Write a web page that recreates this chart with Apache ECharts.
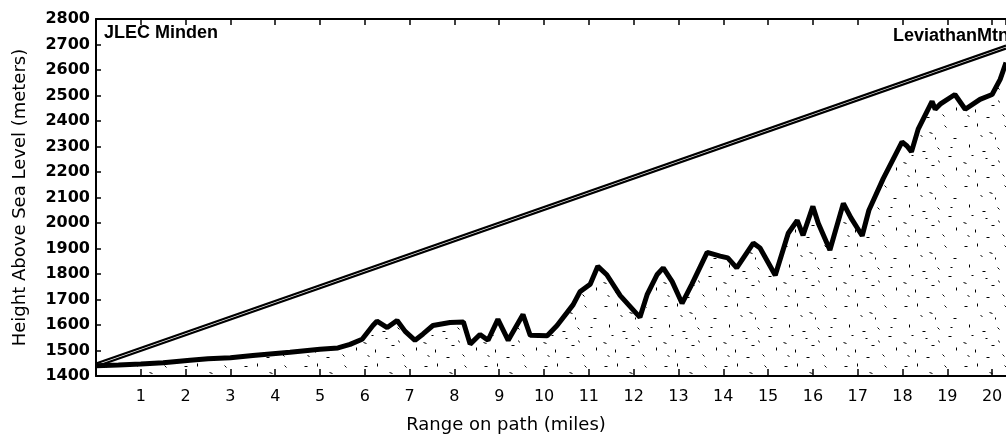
<!DOCTYPE html>
<html>
<head>
<meta charset="UTF-8" />
<title>Path profile</title>
<style>
  html, body { margin: 0; padding: 0; background: #fff; }
  #chart { width: 1006px; height: 439px; }
</style>
</head>
<body>
<div id="chart"></div>
<script src="https://cdn.jsdelivr.net/npm/echarts@6/dist/echarts.min.js"></script>
<script>
// terrain profile along the path: miles / meters
const rangeMiles = [0, 0.5, 1, 1.5, 2.1, 2.5, 3, 3.5, 4.33, 5, 5.4, 5.67, 5.94, 6.18, 6.27, 6.5, 6.72, 6.9, 7.12, 7.3, 7.52, 7.9, 8.2, 8.35,
  8.57, 8.75, 8.97, 9.2, 9.53, 9.69, 10.07, 10.29, 10.65, 10.8, 11.03, 11.2, 11.4, 11.7, 12.14, 12.3, 12.52, 12.66, 12.86,
  13.08, 13.3, 13.64, 13.93, 14.1, 14.3, 14.67, 14.82, 15.16, 15.45, 15.65, 15.78, 16.0, 16.12, 16.38, 16.68, 16.85, 17.1,
  17.25, 17.57, 17.99, 18.1, 18.2, 18.35, 18.66, 18.73, 18.84, 19.17, 19.4, 19.73, 20.0, 20.18, 20.31];
const heightMeters = [1440, 1443, 1447, 1452, 1462, 1468, 1472, 1480, 1493, 1505, 1510, 1524, 1544, 1598, 1615, 1590, 1618, 1575, 1540, 1565,
  1598, 1610, 1612, 1525, 1563, 1540, 1622, 1540, 1641, 1560, 1558, 1598, 1680, 1730, 1760, 1830, 1797, 1715, 1630, 1719,
  1797, 1824, 1770, 1685, 1760, 1885, 1870, 1863, 1824, 1921, 1902, 1795, 1960, 2010, 1952, 2065, 1999, 1894, 2077, 2020,
  1950, 2050, 2174, 2318, 2302, 2279, 2368, 2477, 2446, 2466, 2504, 2446, 2485, 2504, 2563, 2629];

// line of sight (two close rays)
const losMiles = [0, 20.31];
const losUpper = [1449, 2696];
const losLower = [1437, 2684];

const xMin = 0, xMax = 20.31;
const yMin = 1400, yMax = 2800;

// stipple texture for the ground fill
const stipple = [[4,6,3,0],[17,3,0,3],[29,12,3,1],[44,5,2,2],[53,18,3,0],[9,24,0,3],[22,31,3,0],[37,27,2,2],
  [48,36,3,0],[3,42,3,1],[15,49,0,3],[31,45,3,0],[42,54,2,2],[56,47,0,3],[26,57,3,0],[11,35,2,0],
  [35,17,0,2],[20,15,2,1],[50,27,2,0],[7,55,2,1],[38,40,1,2],[25,38,2,0]];
function makePattern() {
  const c = document.createElement('canvas');
  c.width = 60; c.height = 60;
  const g = c.getContext('2d');
  g.strokeStyle = '#000';
  g.lineWidth = 1;
  stipple.forEach(([x, y, dx, dy]) => {
    g.beginPath();
    g.moveTo(x + 0.5, y + 0.5);
    g.lineTo(x + dx + 0.5, y + dy + 0.5);
    g.stroke();
  });
  return c;
}

const chart = echarts.init(document.getElementById('chart'));
const font = 'DejaVu Sans';

chart.setOption({
  animation: false,
  backgroundColor: '#fff',
  grid: { left: 96, right: 0, top: 19, bottom: 60 },
  xAxis: [{
    type: 'value', min: xMin, max: xMax, interval: 1,
    name: 'Range on path (miles)', nameLocation: 'middle', nameGap: 40,
    nameTextStyle: { fontFamily: font, fontSize: 18, color: '#000', padding: [0, 90, 0, 0] },
    axisLine: { lineStyle: { color: '#000', width: 2 } },
    axisTick: { inside: true, length: 7, lineStyle: { color: '#000', width: 1.5 } },
    axisLabel: {
      fontFamily: font, fontSize: 16, color: '#000', margin: 13, showMaxLabel: false,
      formatter: v => (v > 0 && Number.isInteger(v)) ? String(v) : ''
    },
    splitLine: { show: false }
  }, {
    type: 'value', position: 'top', min: xMin, max: xMax, interval: 1,
    axisLine: { lineStyle: { color: '#000', width: 2 } },
    axisTick: { inside: true, length: 6, lineStyle: { color: '#000', width: 1.5 } },
    axisLabel: { show: false },
    splitLine: { show: false }
  }],
  yAxis: {
    type: 'value', min: yMin, max: yMax, interval: 100,
    name: 'Height Above Sea Level (meters)', nameLocation: 'middle', nameGap: 67,
    nameTextStyle: { fontFamily: font, fontSize: 18, color: '#000' },
    axisLine: { show: true, lineStyle: { color: '#000', width: 2 } },
    axisTick: { show: true, inside: true, length: 5, lineStyle: { color: '#000', width: 1.5 } },
    axisLabel: { fontFamily: font, fontSize: 16, fontWeight: 'bold', color: '#000', margin: 6, formatter: v => String(v) },
    splitLine: { show: false }
  },
  series: [{
    name: 'terrain', type: 'line', showSymbol: false,
    data: rangeMiles.map((x, i) => [x, heightMeters[i]]),
    lineStyle: { color: '#000', width: 5 },
    areaStyle: { color: { image: makePattern(), repeat: 'repeat' }, opacity: 1, origin: 'start' },
    z: 3
  }, {
    name: 'los upper', type: 'line', showSymbol: false,
    data: losMiles.map((x, i) => [x, losUpper[i]]),
    lineStyle: { color: '#000', width: 2.2 }
  }, {
    name: 'los lower', type: 'line', showSymbol: false,
    data: losMiles.map((x, i) => [x, losLower[i]]),
    lineStyle: { color: '#000', width: 2.2 }
  }],
  graphic: [{
    type: 'text', left: 104, top: 24,
    style: { text: 'JLEC Minden', font: 'bold 18px "Liberation Sans"', fill: '#000' }
  }, {
    type: 'text', left: 893, top: 27,
    style: { text: 'LeviathanMtn', font: 'bold 18px "Liberation Sans"', fill: '#000' }
  }]
});
</script>
</body>
</html>
